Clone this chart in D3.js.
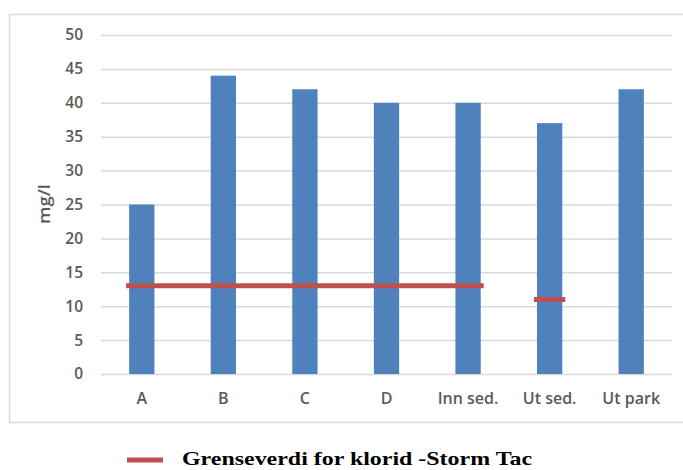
<!DOCTYPE html>
<html><head><meta charset="utf-8">
<script src="https://cdn.jsdelivr.net/npm/d3@7/dist/d3.min.js"></script>
<style>body{margin:0;background:#fff}svg{display:block}</style>
</head><body>
<script>
const categories = ["A","B","C","D","Inn sed.","Ut sed.","Ut park"];
const values = [25,44,42,40,40,37,42];
const limits = [13,13,13,13,13,11,null];
const yTicks = [0,5,10,15,20,25,30,35,40,45,50];
const legendLabel = "Grenseverdi for klorid -Storm Tac";
const yTitle = "mg/l";

const W=683,H=470;
const svg=d3.select("body").append("svg").attr("width",W).attr("height",H);
svg.append("rect").attr("x",9.5).attr("y",14.5).attr("width",690).attr("height",408)
  .attr("fill","#fff").attr("stroke","#d9d9d9").attr("stroke-width",1.5);

const x=d3.scaleBand().domain(categories).range([101,672]).paddingInner(0.69).paddingOuter(0.345);
const y=d3.scaleLinear().domain([0,50]).range([374,35]);
const font="Open Sans, sans-serif";

const g=svg.append("g");
const yAxis=g.append("g").attr("transform","translate(101,0)")
  .call(d3.axisLeft(y).tickValues(yTicks).tickSize(-571).tickPadding(18));
yAxis.select(".domain").remove();
yAxis.selectAll(".tick line").attr("stroke","#d9d9d9").attr("stroke-width",1.5);
yAxis.selectAll(".tick text").attr("fill","#595959").style("font-family",font)
  .style("font-size","15.5px").style("font-weight","600");

g.selectAll("rect.bar").data(values).join("rect").attr("class","bar")
  .attr("x",(d,i)=>x(categories[i])).attr("width",x.bandwidth())
  .attr("y",d=>y(d)).attr("height",d=>y(0)-y(d)).attr("fill","#4f81bd");

const xAxis=g.append("g").attr("transform","translate(0,374)")
  .call(d3.axisBottom(x).tickSize(0).tickPadding(19));
xAxis.select(".domain").remove();
xAxis.selectAll(".tick text").attr("fill","#595959").style("font-family",font)
  .style("font-size","16px").style("font-weight","600");

// limit segments: runs of equal consecutive values
const runs=[];
limits.forEach((v,i)=>{
  if(v==null) return;
  const last=runs[runs.length-1];
  if(last && last.v===v && last.end===i-1) last.end=i; else runs.push({v,start:i,end:i});
});
g.selectAll("line.limit").data(runs).join("line").attr("class","limit")
  .attr("x1",d=>x(categories[d.start])-3).attr("x2",d=>x(categories[d.end])+x.bandwidth()+3)
  .attr("y1",d=>y(d.v)).attr("y2",d=>y(d.v))
  .attr("stroke","#c0504d").attr("stroke-width",5);

svg.append("text").attr("transform","translate(50,204) rotate(-90)").attr("text-anchor","middle")
  .attr("fill","#595959").style("font-family",font).style("font-size","16px")
  .style("font-weight","600").attr("textLength",40).attr("lengthAdjust","spacingAndGlyphs").text(yTitle);

svg.append("line").attr("x1",127).attr("x2",163).attr("y1",460).attr("y2",460)
  .attr("stroke","#c0504d").attr("stroke-width",5);
svg.append("text").attr("x",182).attr("y",465).attr("fill","#000")
  .style("font-family","Liberation Serif, Times New Roman, serif").style("font-size","19px")
  .style("font-weight","bold").attr("textLength",350).attr("lengthAdjust","spacingAndGlyphs").text(legendLabel);
</script>
</body></html>
